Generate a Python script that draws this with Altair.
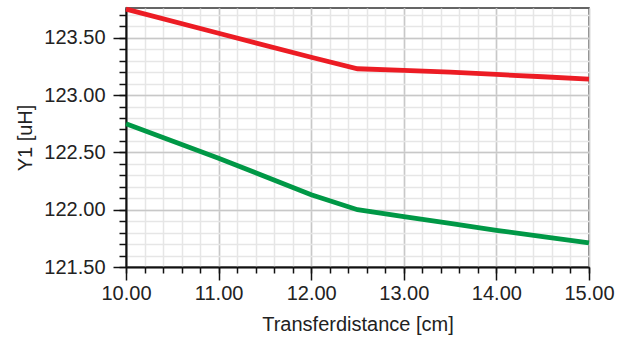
import altair as alt
import pandas as pd

# Data
x_red = [10.0, 11.0, 12.0, 12.5, 13.0, 13.5, 14.0, 14.5, 15.0]
y_red = [123.75, 123.54, 123.33, 123.23, 123.215, 123.20, 123.18, 123.16, 123.14]
x_green = [10.0, 11.0, 12.0, 12.5, 13.0, 13.5, 14.0, 14.5, 15.0]
y_green = [122.75, 122.45, 122.13, 122.0, 121.94, 121.88, 121.82, 121.765, 121.71]

x_major = [10.0, 11.0, 12.0, 13.0, 14.0, 15.0]
x_minor = [round(10.0 + 0.2 * i, 2) for i in range(26)]
y_major = [121.5, 122.0, 122.5, 123.0, 123.5]
y_minor = [round(121.5 + 0.1 * i, 2) for i in range(23)]

df = pd.DataFrame({
    "x": x_red + x_green,
    "y": y_red + y_green,
    "series": ["A"] * len(x_red) + ["B"] * len(x_green),
})

FONT = "Liberation Sans"
xscale = alt.Scale(domain=[10, 15], nice=False, zero=False)
yscale = alt.Scale(domain=[121.5, 123.76], nice=False, zero=False)
cscale = alt.Scale(domain=["A", "B"], range=["#ec1c24", "#009846"])

minor = alt.Chart(df).mark_line(opacity=0).encode(
    x=alt.X("x:Q", scale=xscale, axis=alt.Axis(
        orient="bottom", values=x_minor, labels=False, title=None, domain=False,
        grid=True, gridColor="#e6e6e6", gridWidth=1.5,
        ticks=True, tickSize=6, tickColor="#111", tickWidth=1.5)),
    y=alt.Y("y:Q", scale=yscale, axis=alt.Axis(
        orient="left", values=y_minor, labels=False, title=None, domain=False,
        grid=True, gridColor="#e6e6e6", gridWidth=1.5,
        ticks=True, tickSize=7, tickColor="#111", tickWidth=1.5)),
    detail="series:N",
)

major = alt.Chart(df).mark_line(strokeWidth=4.8).encode(
    x=alt.X("x:Q", scale=xscale, axis=alt.Axis(
        orient="bottom", values=x_major, format=".2f", title="Transferdistance [cm]",
        domain=True, domainColor="#111", domainWidth=2,
        grid=True, gridColor="#c8c8c8", gridWidth=1.5,
        ticks=True, tickSize=13, tickColor="#111", tickWidth=1.5,
        labelFont=FONT, labelFontSize=20, labelColor="#222", labelPadding=3,
        labelFlush=False, labelOverlap=False, labelBound=False,
        titleFont=FONT, titleFontSize=20, titleFontWeight="normal", titleColor="#222",
        titlePadding=11)),
    y=alt.Y("y:Q", scale=yscale, axis=alt.Axis(
        orient="left", values=y_major, format=".2f", title="Y1 [uH]",
        domain=True, domainColor="#111", domainWidth=2,
        grid=True, gridColor="#c8c8c8", gridWidth=1.5,
        ticks=True, tickSize=13, tickColor="#111", tickWidth=1.5,
        labelFont=FONT, labelFontSize=20, labelColor="#222", labelPadding=8,
        labelFlush=False, labelOverlap=False, labelBound=False,
        titleFont=FONT, titleFontSize=20, titleFontWeight="normal", titleColor="#222",
        titlePadding=8)),
    color=alt.Color("series:N", scale=cscale, legend=None),
)

chart = alt.layer(minor, major).resolve_axis(
    x="independent", y="independent"
).properties(
    width=463, height=259,
    autosize=alt.AutoSizeParams(type="none"),
    padding={"left": 126, "top": 8, "right": 36, "bottom": 78},
).configure_view(stroke="#333", strokeWidth=1.5)

chart.save("out.html", embed_options={"renderer": "svg", "actions": False})
